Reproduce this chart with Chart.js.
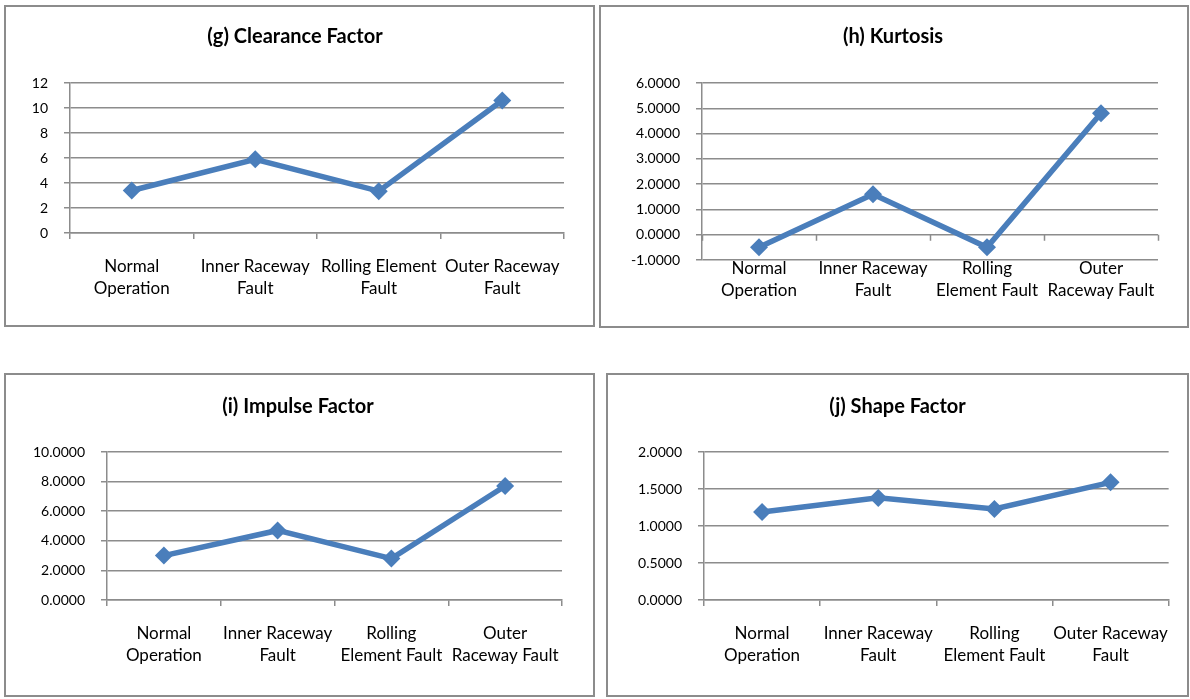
<!DOCTYPE html>
<html>
<head>
<meta charset="utf-8">
<script src="https://cdn.jsdelivr.net/npm/chart.js@4/dist/chart.umd.min.js"></script>
<style>
  body { margin: 0; background: #fff; width: 1190px; height: 699px; position: relative; overflow: hidden; }
  .panel { position: absolute; border: 2px solid #8c8c8c; box-sizing: border-box; background: #fff; }
  .panel canvas { position: absolute; left: 0; top: 0; }
</style>
</head>
<body>
<div class="panel" id="pg" style="left:4px;top:5px;width:591px;height:322px"><canvas id="g"></canvas></div>
<div class="panel" id="ph" style="left:599px;top:5px;width:590px;height:323px"><canvas id="h"></canvas></div>
<div class="panel" id="pi" style="left:4px;top:373px;width:591px;height:324px"><canvas id="i"></canvas></div>
<div class="panel" id="pj" style="left:606px;top:373px;width:583px;height:324px"><canvas id="j"></canvas></div>
<script>
const categories = ['Normal Operation', 'Inner Raceway Fault', 'Rolling Element Fault', 'Outer Raceway Fault']

// wrapped category labels as they appear under each panel
const labelsG = [['Normal', 'Operation'], ['Inner Raceway', 'Fault'], ['Rolling Element', 'Fault'], ['Outer Raceway', 'Fault']]
const labelsH = [['Normal', 'Operation'], ['Inner Raceway', 'Fault'], ['Rolling', 'Element Fault'], ['Outer', 'Raceway Fault']]
const labelsI = [['Normal', 'Operation'], ['Inner Raceway', 'Fault'], ['Rolling', 'Element Fault'], ['Outer', 'Raceway Fault']]
const labelsJ = [['Normal', 'Operation'], ['Inner Raceway', 'Fault'], ['Rolling', 'Element Fault'], ['Outer Raceway', 'Fault']]

// series values
const clearanceFactor = [3.4, 5.9, 3.35, 10.6]
const kurtosis = [-0.5, 1.6, -0.5, 4.8]
const impulseFactor = [3.0, 4.7, 2.8, 7.7]
const shapeFactor = [1.19, 1.38, 1.23, 1.59]

// y axis ranges
const rangeG = { min: 0, max: 12, step: 2, digits: 0 }
const rangeH = { min: -1, max: 6, step: 1, digits: 4 }
const rangeI = { min: 0, max: 10, step: 2, digits: 4 }
const rangeJ = { min: 0, max: 2, step: 0.5, digits: 4 }

const FONT = 'Lato, Carlito, Calibri, "Open Sans", sans-serif'
const GRID = '#8c8c8c'
const BLUE = '#4a7ebb'

// tick marks on the category axis drawn along the zero line
const zeroTicks = {
   id: 'zeroTicks',
   afterDatasetsDraw(chart, args, opts) {
      if (!opts.on) return
      const x = chart.scales.x
      const y0 = chart.scales.y.getPixelForValue(0)
      const ctx = chart.ctx
      ctx.save()
      ctx.strokeStyle = GRID
      ctx.lineWidth = 1.5
      ctx.beginPath()
      for (let k = 0; k <= categories.length; k++) {
         const px = Math.round(x.left + (x.right - x.left) * k / categories.length) + 0.5
         ctx.moveTo(px, y0)
         ctx.lineTo(px, y0 + 6)
      }
      ctx.stroke()
      ctx.restore()
   }
}

function makeChart(id, title, labels, values, range, box, onZero) {
   const canvas = document.getElementById(id)
   const panel = canvas.parentElement
   const w = panel.clientWidth
   const h = panel.clientHeight
   canvas.width = w
   canvas.height = h
   canvas.style.width = w + 'px'
   canvas.style.height = h + 'px'

   return new Chart(canvas, {
      type: 'line',
      data: {
         labels: labels,
         datasets: [
            {
               label: title,
               data: values,
               borderColor: BLUE,
               backgroundColor: BLUE,
               borderWidth: 5.5,
               pointStyle: 'rectRot',
               pointRadius: 9,
               pointBorderWidth: 0,
               pointBackgroundColor: BLUE,
               tension: 0
            }
         ]
      },
      options: {
         responsive: false,
         animation: false,
         layout: {
            padding: { left: 0, right: box.right, top: 0, bottom: 0 }
         },
         plugins: {
            legend: { display: false },
            tooltip: { enabled: false },
            zeroTicks: { on: onZero },
            title: {
               display: true,
               text: title,
               color: '#000',
               font: { family: FONT, size: 20, weight: 'bold', lineHeight: 1.2 },
               padding: { top: box.titleTop, bottom: box.titleBottom }
            }
         },
         scales: {
            x: {
               offset: true,
               grid: {
                  display: true,
                  drawOnChartArea: false,
                  drawTicks: !onZero,
                  tickLength: 6,
                  color: GRID,
                  lineWidth: 1.5,
                  offset: true
               },
               border: { display: !onZero, color: GRID, width: 1.5 },
               ticks: {
                  color: '#000',
                  font: { family: FONT, size: 17, lineHeight: 1.27 },
                  maxRotation: 0,
                  autoSkip: false,
                  padding: box.xPad
               },
               afterFit: s => { s.height = box.xHeight }
            },
            y: {
               min: range.min,
               max: range.max,
               grid: {
                  color: GRID,
                  lineWidth: 1.5,
                  tickLength: 6
               },
               border: { display: true, color: GRID, width: 1.5 },
               ticks: {
                  stepSize: range.step,
                  color: '#000',
                  font: { family: FONT, size: 14 },
                  padding: 16,
                  callback: v => Number(v).toFixed(range.digits)
               },
               afterFit: s => { s.width = box.yWidth }
            },
            // empty right-hand gutter, so the title stays centred on the panel
            gutter: {
               type: 'linear',
               position: 'right',
               grid: { display: false },
               border: { display: false },
               ticks: { display: false },
               afterFit: s => { s.width = box.gutter }
            }
         }
      },
      plugins: [zeroTicks]
   })
}

// chart area targets (page px): g x 70-563 y 83-231, h x 702-1158 y 83-257,
// i x 107-562 y 452-600, j x 704-1170 y 452-600
makeChart('g', '(g) Clearance Factor', labelsG, clearanceFactor, rangeG,
   { yWidth: 64, right: 9, gutter: 20, titleTop: 18, titleBottom: 34, xHeight: 92, xPad: 17 }, false)
makeChart('h', '(h) Kurtosis', labelsH, kurtosis, rangeH,
   { yWidth: 101, right: 2, gutter: 27, titleTop: 18, titleBottom: 34, xHeight: 66, xPad: -2 }, true)
makeChart('i', '(i) Impulse Factor', labelsI, impulseFactor, rangeI,
   { yWidth: 101, right: 3, gutter: 28, titleTop: 20, titleBottom: 33, xHeight: 95, xPad: 17 }, false)
makeChart('j', '(j) Shape Factor', labelsJ, shapeFactor, rangeJ,
   { yWidth: 96, right: 0, gutter: 17, titleTop: 20, titleBottom: 33, xHeight: 95, xPad: 17 }, false)
</script>
</body>
</html>
